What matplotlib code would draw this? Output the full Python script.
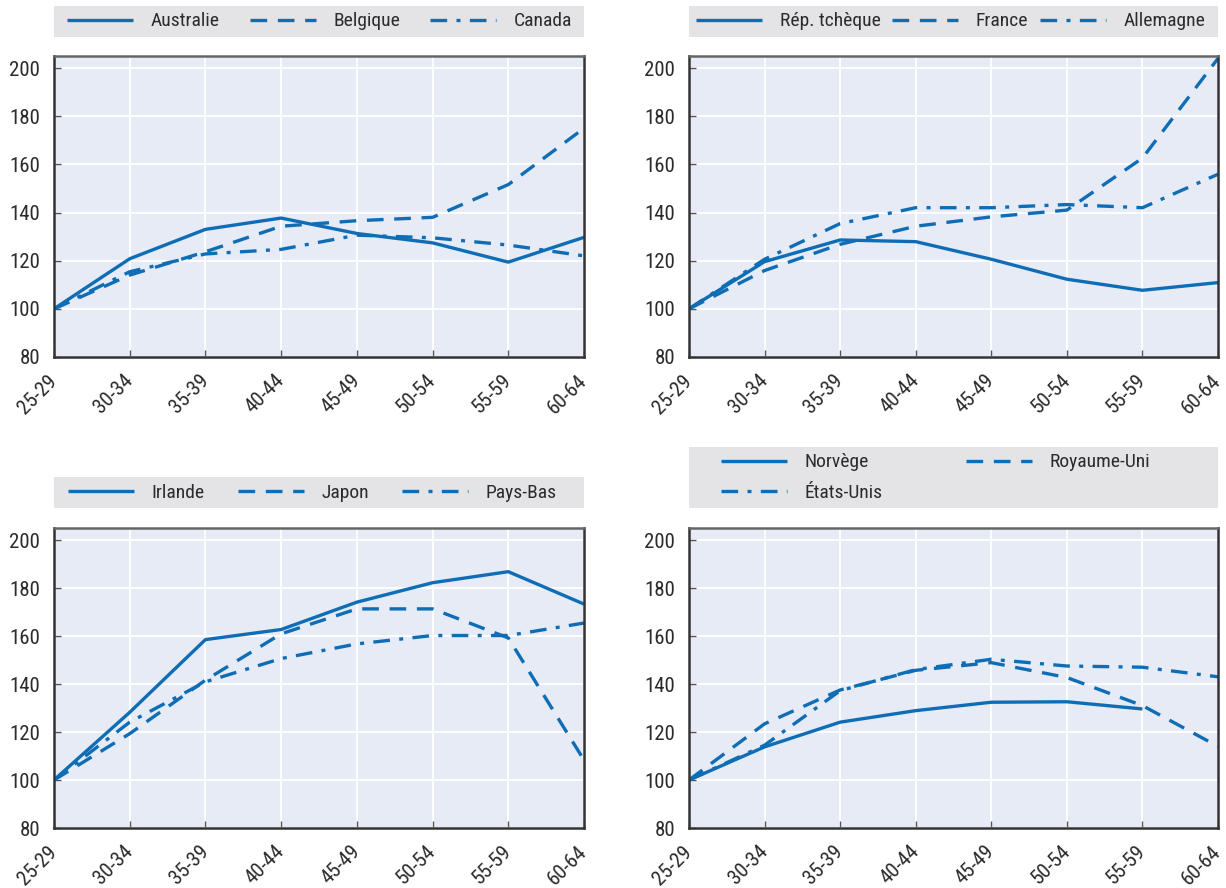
import numpy as np
import matplotlib
matplotlib.use("Agg")
import matplotlib.pyplot as plt
from matplotlib import font_manager
from matplotlib.patches import Rectangle

names = {f.name for f in font_manager.fontManager.ttflist}
narrow = [n for n in ["Roboto Condensed", "Liberation Sans Narrow", "Arial Narrow"] if n in names]
plt.rcParams['font.family'] = narrow + ['Liberation Sans', 'DejaVu Sans']

BLUE = "#0f6db5"
AX_BG = "#e7ebf6"
LEG_BG = "#e4e4e6"
TXT = "#2b2b2b"

ages = ["25-29", "30-34", "35-39", "40-44", "45-49", "50-54", "55-59", "60-64"]

# panel 1
australie = [100, 120.8, 133, 137.7, 131.3, 127.4, 119.4, 129.7]
belgique = [100, 114, 123.7, 134.3, 136.6, 138, 151.6, 175]
canada = [100, 115.4, 122.8, 124.7, 130.6, 129.5, 126.5, 122]

# panel 2
rep_tcheque = [100, 119.6, 128.6, 127.9, 120.6, 112.3, 107.7, 110.9]
france = [100, 115.9, 126.8, 134.3, 138.2, 141, 162.6, 204]
allemagne = [100, 120.6, 135.4, 142, 142, 143.3, 142, 155.9]

# panel 3
irlande = [100, 128.2, 158.5, 162.7, 174.1, 182.2, 186.8, 173.3]
japon = [100, 119.3, 141.6, 160.9, 171.3, 171.3, 159.2, 108.3]
pays_bas = [100, 124.1, 140.9, 150.6, 156.7, 160.2, 160.2, 165.4]

# panel 4
norvege = [100, 113.8, 124.1, 128.9, 132.4, 132.6, 129.6, np.nan]
royaume_uni = [100, 123.4, 137.5, 145.7, 148.9, 142.7, 131, 114]
etats_unis = [100, 114.5, 137.2, 146, 150.3, 147.5, 147, 143]

SOLID = "-"
DASH = (0, (5, 3.2))
DASHDOT = (0, (5, 2.8, 1.2, 2.8))

panels = [
    ([("Australie", australie, SOLID), ("Belgique", belgique, DASH), ("Canada", canada, DASHDOT)], 3),
    ([("Rép. tchèque", rep_tcheque, SOLID), ("France", france, DASH), ("Allemagne", allemagne, DASHDOT)], 3),
    ([("Irlande", irlande, SOLID), ("Japon", japon, DASH), ("Pays-Bas", pays_bas, DASHDOT)], 3),
    ([("Norvège", norvege, SOLID), ("Royaume-Uni", royaume_uni, DASH), ("États-Unis", etats_unis, DASHDOT)], 2),
]

W, H = 1226, 888
fig = plt.figure(figsize=(W / 100, H / 100), dpi=100)

# axes boxes in pixels: left, right, top, bottom
boxes = [(54, 584, 56, 357), (689, 1218, 56, 357), (54, 584, 528, 828), (689, 1218, 528, 828)]
# legend boxes: top, bottom, handle start offset (px), column spacing (em)
legend_boxes = [(6, 37, 13, 1.55), (6, 37, 7, 0.6), (477, 508, 14, 1.7), (447, 508, 32, 4.3)]

x = np.arange(len(ages))
for (series, ncol), (l, r, t, b), (lt, lb, off, cs) in zip(panels, boxes, legend_boxes):
    ax = fig.add_axes([l / W, 1 - b / H, (r - l) / W, (b - t) / H])
    ax.set_facecolor(AX_BG)
    handles = []
    for name, vals, ls in series:
        h, = ax.plot(x, vals, color=BLUE, lw=2.4, linestyle=ls, label=name,
                     solid_capstyle="butt", dash_capstyle="butt")
        handles.append(h)
    ax.set_xlim(0, len(ages) - 1)
    ax.set_ylim(80, 205)
    ax.set_yticks([80, 100, 120, 140, 160, 180, 200])
    ax.set_xticks(x)
    ax.set_xticklabels(ages, rotation=45, ha="right", va="center", rotation_mode="anchor")
    ax.grid(True, color="white", lw=1.3)
    ax.set_axisbelow(True)
    ax.tick_params(axis="both", direction="in", length=5, width=1, color="#555555",
                   labelsize=15, labelcolor=TXT)
    ax.tick_params(axis="y", pad=10)
    ax.tick_params(axis="x", pad=15)
    for s in ax.spines.values():
        s.set_color("#333333")
        s.set_linewidth(1.8)
    ax.spines["top"].set_color("#666666")

    # grey legend band
    fig.patches.append(Rectangle((l / W, 1 - lb / H), (r - l) / W, (lb - lt) / H,
                                 transform=fig.transFigure, facecolor=LEG_BG,
                                 edgecolor="none", zorder=0))
    if ncol == 2:
        handles = [handles[0], handles[2], handles[1]]
    leg = fig.legend(handles=handles, labels=[h.get_label() for h in handles],
                     ncol=ncol, loc="center left",
                     bbox_to_anchor=((l + off) / W, 1 - (lt + lb) / 2 / H),
                     frameon=False, fontsize=14, handlelength=3.4, handletextpad=0.9,
                     columnspacing=cs, borderpad=0, borderaxespad=0,
                     labelspacing=0.62)
    for txt in leg.get_texts():
        txt.set_color(TXT)

fig.savefig("out.png", dpi=100)
